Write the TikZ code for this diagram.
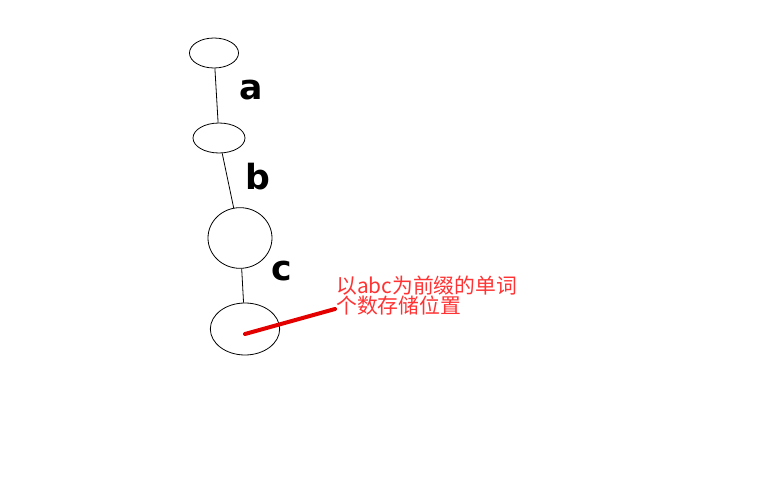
\documentclass[tikz,border=0pt]{standalone}
\usepackage{fontspec}
\newfontfamily\cjk{Noto Sans CJK SC}
\newfontfamily\hand{DejaVu Sans}
\usetikzlibrary{shapes.geometric}

\tikzset{
  trienode/.style={draw,ellipse,line width=.6pt,inner sep=0pt},
  triechar/.style={font=\hand\bfseries\fontsize{26}{26}\selectfont,inner sep=0pt},
  notetext/.style={font=\cjk\fontsize{15.6}{15}\selectfont,text=red!80!white,align=left,inner sep=0pt}
}

\begin{document}
\begin{tikzpicture}[x=.75pt,y=-.75pt]
\useasboundingbox (0,0) rectangle (769,481);

%---------------------------------------------------------------------------------------- NODOS
\node[trienode,minimum width=36.8pt,minimum height=22.5pt] (root) at (214,53) {};
\node[trienode,minimum width=39pt,minimum height=22.5pt] (na)   at (219,138) {};
\node[trienode,minimum width=48pt,minimum height=45.5pt] (nb)   at (240,238) {};
\node[trienode,minimum width=52pt,minimum height=39pt] (nc)   at (245,329) {};

%---------------------------------------------------------------------------------------- ARISTAS
\draw[line width=.6pt] (root) -- (na);
\draw[line width=.6pt] (na) -- (nb);
\draw[line width=.6pt] (nb) -- (nc);

\node[triechar] (la) at (251,90) {a};   %------------------------------------------------ letras
\node[triechar] (lb) at (258,177) {b};
\node[triechar] (lc) at (282,271) {c};

%---------------------------------------------------------------------------------------- NOTA
\node[notetext,anchor=north west] (note) at (336,276) {以abc为前缀的单词\\个数存储位置};
\coordinate (tip) at (245,334);
\coordinate (noteend) at (335,309);
\draw[red!90!black,line width=3pt,line cap=round] (tip) -- (noteend);

\end{tikzpicture}
\end{document}
